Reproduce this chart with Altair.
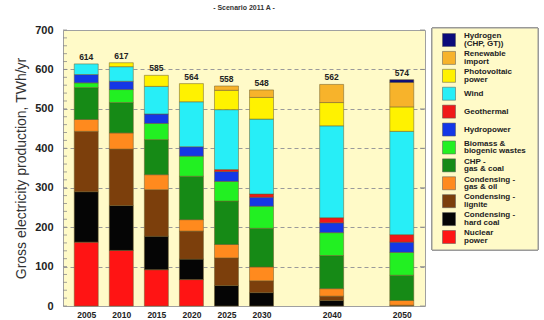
import altair as alt
import pandas as pd

years = [2005, 2010, 2015, 2020, 2025, 2030, 2040, 2050]
totals = [614, 617, 585, 564, 558, 548, 562, 574]

# series, bottom of the stack first
nuclear = [162, 141, 92, 67, 0, 0, 0, 0]
hard_coal = [128, 114, 85, 52, 52, 34, 14, 0]
lignite = [153, 143, 118, 71, 70, 30, 11, 2]
gas_oil = [30, 41, 38, 29, 34, 35, 19, 12]
chp = [81, 77, 89, 110, 110, 98, 84, 64]
biomass = [12, 33, 41, 51, 50, 56, 58, 58]
hydro = [21, 21, 24, 24, 25, 23, 25, 26]
geothermal = [0, 0, 0, 0, 5, 8, 13, 19]
wind = [27, 37, 70, 114, 152, 190, 233, 262]
pv = [0, 10, 28, 46, 49, 55, 59, 62]
imports = [0, 0, 0, 0, 11, 19, 46, 62]
hydrogen = [0, 0, 0, 0, 0, 0, 0, 7]

names = [
    "Nuclear|power",
    "Condensing -|hard coal",
    "Condensing -|lignite",
    "Condensing -|gas & oil",
    "CHP -|gas & coal",
    "Biomass &|biogenic wastes",
    "Hydropower",
    "Geothermal",
    "Wind",
    "Photovoltaic|power",
    "Renewable|import",
    "Hydrogen|(CHP, GT))",
]
series = [nuclear, hard_coal, lignite, gas_oil, chp, biomass, hydro,
          geothermal, wind, pv, imports, hydrogen]
colors = ["#ff1414", "#050505", "#7c3f0c", "#ff8a1e", "#168a16", "#22f022",
          "#1437e6", "#f01818", "#27eef7", "#fff200", "#f7b32b", "#0c0c7a"]

y_labels = [0, 100, 200, 300, 400, 500, 600, 700]
minor_ticks = list(range(0, 701, 20))

rows = []
for i, (name, vals) in enumerate(zip(names, series)):
    for yr, v in zip(years, vals):
        if v > 0:
            rows.append({"year": yr, "source": name, "value": v, "order": i})
df = pd.DataFrame(rows)
tot_df = pd.DataFrame({"year": years, "total": totals})

legend_order = names[::-1]
leg_df = pd.DataFrame({"source": legend_order, "idx": list(range(len(legend_order)))})
line_rows = []
for idx, name in enumerate(legend_order):
    parts = name.split("|")
    for k, p in enumerate(parts):
        line_rows.append({"idx": idx, "k": k, "n": len(parts), "line": p})
lines_df = pd.DataFrame(line_rows)

xscale = alt.Scale(domain=[2002.4, 2052.6], nice=False, zero=False)
yscale = alt.Scale(domain=[0, 700], nice=False)
cscale = alt.Scale(domain=legend_order, range=colors[::-1])
FONT = "Liberation Sans"

yaxis = alt.Axis(values=y_labels, title="Gross electricity production, TWh/yr",
                 grid=True, gridDash=[4, 3], gridColor="#9a9a9a",
                 gridOpacity={"condition": {"test": "datum.value == 0 || datum.value == 700", "value": 0}, "value": 1},
                 ticks=False, domain=False, labelFontSize=11,
                 labelFontWeight="bold", labelPadding=10,
                 labelOverlap=False, labelFlush=False,
                 labelColor="#222", labelFont=FONT,
                 titleFont=FONT, titleFontSize=14, titleFontWeight="normal",
                 titleColor="#333", titlePadding=6)
xaxis = alt.Axis(values=years, format="d", title=None, ticks=False,
                 domain=False, grid=False, labelFontSize=8.5,
                 labelFontWeight="bold", labelPadding=4,
                 labelColor="#222", labelFont=FONT)

bars = alt.Chart(df).mark_bar(width=24, stroke="#6b5a2a", strokeWidth=0.5).encode(
    x=alt.X("year:Q", scale=xscale, axis=xaxis),
    y=alt.Y("value:Q", stack="zero", scale=yscale, axis=yaxis),
    color=alt.Color("source:N", scale=cscale, legend=None),
    order=alt.Order("order:Q", sort="ascending"),
)

text = alt.Chart(tot_df).mark_text(dy=-2, baseline="bottom", fontSize=8.5,
                                   fontWeight="bold", font=FONT, color="#222").encode(
    x=alt.X("year:Q", scale=xscale, axis=xaxis),
    y=alt.Y("total:Q", scale=yscale, axis=yaxis),
    text=alt.Text("total:Q"),
)

ticks_l = alt.Chart(pd.DataFrame({"v": minor_ticks})).mark_rule(
    color="#8a8a8a", strokeWidth=0.8).encode(
    y=alt.Y("v:Q", scale=yscale, axis=yaxis), x=alt.value(0), x2=alt.value(4))

ticks_r = alt.Chart(pd.DataFrame({"v": y_labels})).mark_rule(
    color="#8a8a8a", strokeWidth=0.8).encode(
    y=alt.Y("v:Q", scale=yscale, axis=yaxis), x=alt.value(362), x2=alt.value(357))

main = alt.layer(bars, text, ticks_l, ticks_r)

# hand-built legend
leg_scale = alt.Scale(domain=[0, len(legend_order) - 1], range=[10, 207], nice=False, zero=False)

leg_box = alt.Chart(leg_df).mark_rect(fill="#fffac8", stroke="#999999",
                                       strokeWidth=1).encode(
    x=alt.value(369), x2=alt.value(475), y=alt.value(-2), y2=alt.value(220))

leg_sw = alt.Chart(leg_df).mark_square(size=169, opacity=1, stroke="#555",
                                       strokeWidth=0.5).encode(
    x=alt.value(386),
    y=alt.Y("idx:Q", scale=leg_scale, axis=None),
    color=alt.Color("source:N", scale=cscale, legend=None))

leg_tx = alt.Chart(lines_df).transform_calculate(
    pos="datum.idx + (datum.k - (datum.n - 1) / 2) * 0.42"
).mark_text(align="left", baseline="middle", fontSize=8, fontWeight="bold",
            font=FONT, color="#222").encode(
    x=alt.value(401),
    y=alt.Y("pos:Q", scale=leg_scale, axis=None),
    text="line:N")

legend = alt.layer(leg_box, leg_sw, leg_tx)

chart = alt.layer(main, legend).resolve_scale(y="independent").properties(
    width=362, height=276,
    title=alt.TitleParams("- Scenario 2011 A -", fontSize=7, fontWeight="bold",
                          font=FONT, color="#333", offset=13, anchor="middle"),
    autosize=alt.AutoSizeParams(type="none"),
    padding={"left": 63, "top": 30, "right": 119, "bottom": 14},
    background="white",
).configure_view(fill="#fffac8", stroke="#a0a0a0", strokeWidth=1)

chart.save("out.html", embed_options={"renderer": "svg", "actions": False})
